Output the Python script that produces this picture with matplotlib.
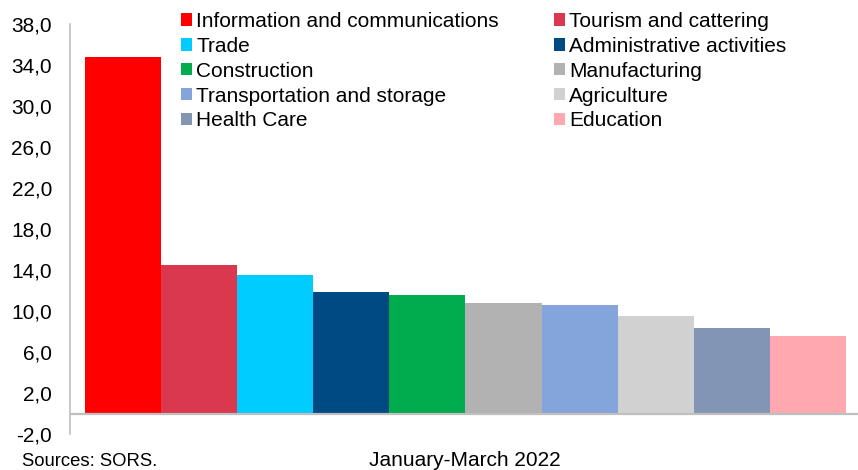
import matplotlib.pyplot as plt
from matplotlib.patches import Patch

plt.rcParams['font.family'] = ['Liberation Sans', 'DejaVu Sans']

sectors = ['Information and communications', 'Tourism and cattering', 'Trade',
           'Administrative activities', 'Construction', 'Manufacturing',
           'Transportation and storage', 'Agriculture', 'Health Care', 'Education']
growth = [34.8, 14.5, 13.5, 11.9, 11.6, 10.8, 10.6, 9.5, 8.3, 7.6]
colors = ['#FF0000', '#D9384F', '#00CCFF', '#004A84', '#00AC4E',
          '#B2B2B2', '#84A4DC', '#D1D1D1', '#8395B5', '#FFA8B0']
yticks = [-2, 2, 6, 10, 14, 18, 22, 26, 30, 34, 38]
period = 'January-March 2022'

W, H = 858, 470
fig = plt.figure(figsize=(W / 100, H / 100), dpi=100)
ax = fig.add_axes([70 / W, (H - 434) / H, 1 - 70 / W, 410 / H])

x = list(range(len(growth)))
ax.bar(x, growth, width=1.0, color=colors, linewidth=0)
ax.set_xlim(-0.5 - 0.197, len(growth) - 0.5 + 0.158)
ax.set_ylim(-2, 38)
ax.axhline(0, color='#BFBFBF', linewidth=1.6, zorder=3)

ax.set_yticks(yticks)
ax.set_yticklabels([f'{v:.1f}'.replace('.', ',') for v in yticks], fontsize=15)
ax.tick_params(axis='y', length=0, pad=13)
ax.set_xticks([])
for side in ['top', 'right', 'bottom']:
    ax.spines[side].set_visible(False)
ax.spines['left'].set_color('#BFBFBF')
ax.spines['left'].set_linewidth(1.2)

# legend in two columns, filled row by row
handles = [Patch(facecolor=c, edgecolor='none', label=s) for s, c in zip(sectors, colors)]
leg_kw = dict(loc='upper left', frameon=False, fontsize=15, borderpad=0,
              borderaxespad=0, handlelength=0.53, handleheight=0.53,
              handletextpad=0.2, labelspacing=0.28)
leg1 = fig.legend(handles=handles[0::2], bbox_to_anchor=(181 / W, 1 - 12 / H), **leg_kw)
leg2 = fig.legend(handles=handles[1::2], bbox_to_anchor=(554 / W, 1 - 12 / H), **leg_kw)

fig.text(465 / W, 1 - 460 / H, period, ha='center', va='center', fontsize=15)
fig.text(22 / W, 1 - 462 / H, 'Sources: SORS.', ha='left', va='center', fontsize=13.3)

fig.savefig('out.png', dpi=100)
